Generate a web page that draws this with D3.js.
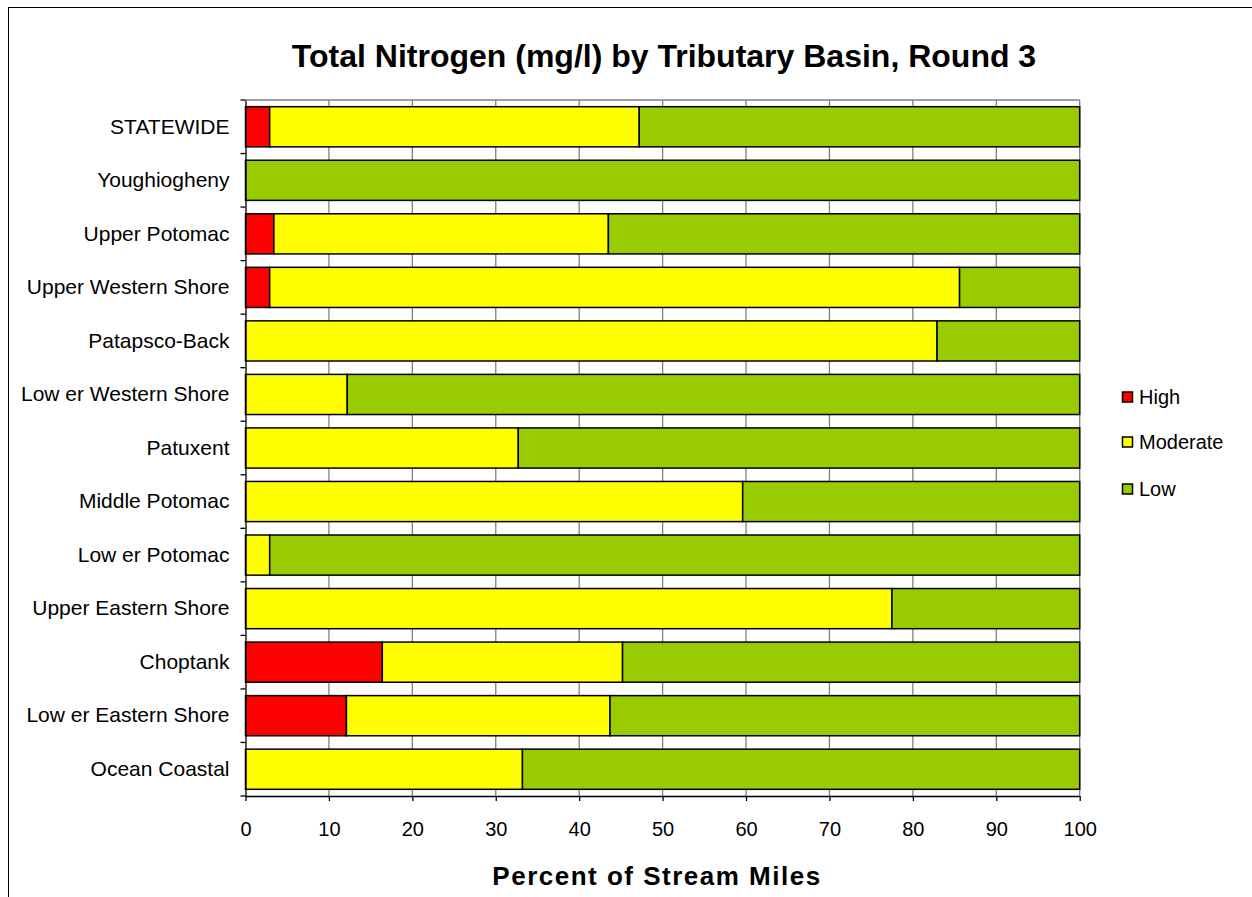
<!DOCTYPE html>
<html>
<head>
<meta charset="utf-8">
<script src="https://cdn.jsdelivr.net/npm/d3@7"></script>
<style>
  body { margin: 0; background: #fff; }
  text { font-family: "Liberation Sans", Arial, sans-serif; fill: #000; }
</style>
</head>
<body>
<svg id="chart" width="1252" height="897"></svg>
<script>
// categories top to bottom
var basins = ["STATEWIDE", "Youghiogheny", "Upper Potomac", "Upper Western Shore",
  "Patapsco-Back", "Low er Western Shore", "Patuxent", "Middle Potomac",
  "Low er Potomac", "Upper Eastern Shore", "Choptank", "Low er Eastern Shore", "Ocean Coastal"];

// percent of stream miles per class
var high     = [2.9, 0, 3.4, 2.9, 0, 0, 0, 0, 0, 0, 16.4, 12.1, 0];
var moderate = [44.3, 0, 40.1, 82.7, 82.9, 12.2, 32.7, 59.6, 2.9, 77.5, 28.8, 31.6, 33.2];
var low      = [52.8, 100, 56.5, 14.4, 17.1, 87.8, 67.3, 40.4, 97.1, 22.5, 54.8, 56.3, 66.8];

var classes = ["High", "Moderate", "Low"];
var colors = {High: "#ff0000", Moderate: "#ffff00", Low: "#99cc00"};
var xTicks = [0, 10, 20, 30, 40, 50, 60, 70, 80, 90, 100];

var rows = basins.map(function(b, i) {
  return {basin: b, High: high[i], Moderate: moderate[i], Low: low[i]};
});

var svg = d3.select("#chart");

// outer chart border (only top/left visible in the frame)
svg.append("rect")
  .attr("x", 8.5).attr("y", 7.5)
  .attr("width", 1400).attr("height", 1000)
  .attr("fill", "#fff").attr("stroke", "#000").attr("stroke-width", 1);

var plot = {left: 245.5, right: 1079.7, top: 100, bottom: 796};

var x = d3.scaleLinear().domain([0, 100]).range([plot.left, plot.right]);
var y = d3.scaleBand().domain(basins).range([plot.top, plot.bottom])
  .paddingInner(0.25).paddingOuter(0.125);

// title
svg.append("text")
  .attr("x", 664).attr("y", 67)
  .attr("text-anchor", "middle")
  .style("font-size", "32px").style("font-weight", "bold")
  .text("Total Nitrogen (mg/l) by Tributary Basin, Round 3");

// gridlines
svg.append("g").attr("class", "grid")
  .selectAll("line").data(xTicks.slice(1)).enter().append("line")
  .attr("x1", function(d) { return x(d); }).attr("x2", function(d) { return x(d); })
  .attr("y1", plot.top).attr("y2", plot.bottom)
  .attr("stroke", "#808080").attr("stroke-width", 1.3);

svg.append("line")
  .attr("x1", plot.left).attr("x2", plot.right)
  .attr("y1", plot.top).attr("y2", plot.top)
  .attr("stroke", "#808080").attr("stroke-width", 1.3);

// stacked bars
var stack = d3.stack().keys(classes);
var series = stack(rows);

svg.append("g").selectAll("g").data(series).enter().append("g")
  .attr("fill", function(s) { return colors[s.key]; })
  .selectAll("rect").data(function(s) { return s; }).enter()
  .filter(function(d) { return d[1] - d[0] > 0; })
  .append("rect")
  .attr("x", function(d) { return x(d[0]); })
  .attr("width", function(d) { return x(d[1]) - x(d[0]); })
  .attr("y", function(d) { return y(d.data.basin); })
  .attr("height", y.bandwidth())
  .attr("stroke", "#000").attr("stroke-width", 1.5);

// y axis: labels plus boundary ticks
var yAxis = svg.append("g")
  .attr("transform", "translate(" + plot.left + ",0)")
  .call(d3.axisLeft(y).tickSize(0).tickPadding(16));
yAxis.select(".domain").attr("stroke", "#000").attr("stroke-width", 1.3);
yAxis.selectAll("text").style("font-size", "21px").style("font-family", "'Liberation Sans', Arial, sans-serif");

var bounds = d3.range(basins.length + 1).map(function(i) { return plot.top + i * y.step(); });
svg.append("g").selectAll("line").data(bounds).enter().append("line")
  .attr("x1", plot.left - 5).attr("x2", plot.left)
  .attr("y1", function(d) { return d; }).attr("y2", function(d) { return d; })
  .attr("stroke", "#000").attr("stroke-width", 1.3);

// x axis
var xAxis = svg.append("g")
  .attr("transform", "translate(0," + plot.bottom + ")")
  .call(d3.axisBottom(x).tickValues(xTicks).tickSize(5).tickPadding(21).tickSizeOuter(0));
xAxis.select(".domain").attr("stroke", "#000").attr("stroke-width", 1.3);
xAxis.selectAll(".tick line").attr("stroke", "#000").attr("stroke-width", 1.3);
xAxis.selectAll("text").style("font-size", "20px").style("font-family", "'Liberation Sans', Arial, sans-serif");

// x axis title
svg.append("text")
  .attr("x", 657).attr("y", 885)
  .attr("text-anchor", "middle")
  .style("font-size", "26px").style("font-weight", "bold")
  .style("letter-spacing", "1.5px")
  .text("Percent of Stream Miles");

// legend
var legendY = [397, 442, 489];
var legend = svg.append("g").selectAll("g").data(classes).enter().append("g")
  .attr("transform", function(d, i) { return "translate(1122," + legendY[i] + ")"; });
legend.append("rect")
  .attr("x", 0.5).attr("y", -5)
  .attr("width", 10).attr("height", 10)
  .attr("fill", function(d) { return colors[d]; })
  .attr("stroke", "#000").attr("stroke-width", 1.5);
legend.append("text")
  .attr("x", 17).attr("y", 7)
  .style("font-size", "20px")
  .text(function(d) { return d; });
</script>
</body>
</html>
